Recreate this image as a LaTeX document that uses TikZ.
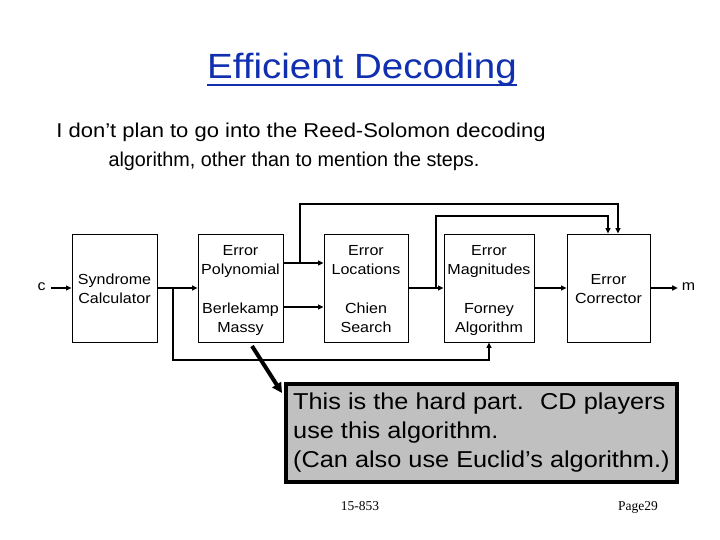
\documentclass[tikz,border=0pt]{standalone}
\usepackage{fontspec}
\setmainfont{Liberation Serif}
\newfontfamily\cs[FakeStretch=1.1]{Liberation Sans}
\usetikzlibrary{arrows.meta}
\definecolor{titleblue}{RGB}{16,48,176}
\definecolor{hardgray}{RGB}{192,192,192}
\newcommand\tstrut{\rule{0pt}{15pt}}
\newcommand\bstrut{\rule[-4pt]{0pt}{4pt}}
\begin{document}
\begin{tikzpicture}[x=1pt,y=-1pt,
  blockbox/.style={draw, line width=0.9pt, minimum width=#1, minimum height=108pt,
    inner sep=0pt, align=center, font=\cs\fontsize{14.6}{19}\selectfont},
  arr/.style={-{Triangle[length=5.5pt,width=5pt]}, line width=1.6pt},
  io/.style={font=\cs\fontsize{14.5}{14}\selectfont, inner sep=1pt},
  hardbox/.style={draw, line width=4pt, fill=hardgray, minimum width=391pt,
    minimum height=98pt, inner sep=0pt},
  hardtext/.style={font=\cs\fontsize{23}{29}\selectfont, align=left, inner sep=0pt},
  subtext/.style={font=\cs\fontsize{20}{29}\selectfont, inner sep=0pt, anchor=base},
  foot/.style={font=\fontsize{13.5}{14}\selectfont, inner sep=0pt}]
\useasboundingbox (0,0) rectangle (720,540);

% title
\node[font=\cs\fontsize{35}{35}\selectfont, text=titleblue, inner sep=0pt, anchor=base] (title) at (362,79) {Efficient Decoding};
\draw[titleblue, line width=2pt] ([yshift=-6pt]title.base west) -- ([yshift=-6pt]title.base east);

% subtitle
\node[subtext] (sub1) at (301,138) {I don’t plan to go into the Reed-Solomon decoding};
\node[subtext] (sub2) at (294,167) {\scalebox{0.9}[1]{algorithm, other than to mention the steps.}};

% blocks
\node[blockbox=85pt] (syn) at (114.5,288) {\tstrut Syndrome\\Calculator\bstrut};
\node[blockbox=85pt] (ep) at (240.5,288) {\tstrut Error\\Polynomial\\[20pt]Berlekamp\\Massy\bstrut};
\node[blockbox=84pt] (el) at (366,288) {\tstrut Error\\Locations\\[20pt]Chien\\Search\bstrut};
\node[blockbox=90pt] (em) at (489,288) {\tstrut Error\\Magnitudes\\[20pt]Forney\\Algorithm\bstrut};
\node[blockbox=83pt] (ec) at (608.5,288) {\tstrut Error\\Corrector\bstrut};

\node[io] (c) at (41.5,287) {c};
\node[io] (m) at (688.5,287) {m};

% helper coordinates
\coordinate (r263) at (0,263);
\coordinate (r307) at (0,307);
\coordinate (j1) at (173,288);
\coordinate (j1b) at (173,360);
\coordinate (j2) at (300,263);
\coordinate (j2b) at (300,204);
\coordinate (j3) at (436,288);
\coordinate (j3b) at (436,216);

% connectors
\draw[arr, shorten <=4pt] (c.east |- syn) -- (syn);
\draw[arr] (syn) -- (ep);
\draw[arr] (ep.east |- r263) -- (el.west |- r263);
\draw[arr] (ep.east |- r307) -- (el.west |- r307);
\draw[arr] (el) -- (em);
\draw[arr] (em) -- (ec);
\draw[arr, shorten >=3pt] (ec) -- (m.west |- ec);
\draw[arr] (j1) -- (j1b) -| (em.south);
\draw[arr] (j2) -- (j2b) -| ([xshift=9.5pt]ec.north);
\draw[arr] (j3) -- (j3b) -| ([xshift=-0.5pt]ec.north);

% the hard part
\node[hardbox] (hard) at (481.5,433) {};
\node[hardtext, anchor=west] (hardtxt) at ([xshift=9pt]hard.west)
  {This is the hard part.~ CD players\\use this algorithm.\\(Can also use Euclid’s algorithm.)};
\coordinate (bA) at (252,346);
\coordinate (bB) at (282,393);
\draw[line width=4pt, -{Triangle[length=10pt,width=10pt]}] (bA) -- (bB);

% footer
\node[foot, anchor=base] (f1) at (360,510) {15-853};
\node[foot, anchor=base] (f2) at (638,510) {Page29};
\end{tikzpicture}
\end{document}
